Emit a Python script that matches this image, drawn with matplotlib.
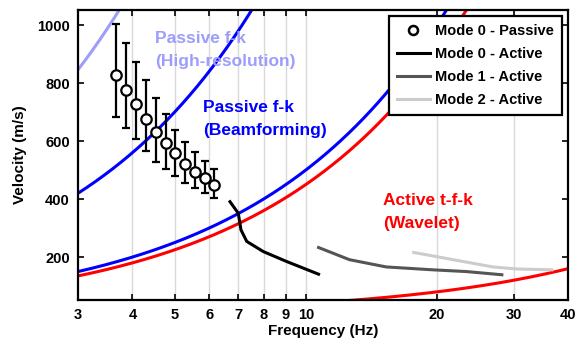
import numpy as np
import matplotlib
matplotlib.use("Agg")
import matplotlib.pyplot as plt
from matplotlib.lines import Line2D

plt.rcParams['font.family'] = ['Liberation Sans', 'DejaVu Sans']
plt.rcParams['font.weight'] = 'bold'

# Passive mode 0 picks with asymmetric error bars
passive_f = [3.66, 3.87, 4.07, 4.30, 4.53, 4.77, 5.02, 5.29, 5.57, 5.86, 6.17]
passive_v = [828, 776, 727, 676, 630, 593, 558, 521, 493, 471, 447]
passive_hi = [1005, 937, 874, 810, 750, 692, 638, 598, 562, 532, 504]
passive_lo = [684, 646, 606, 567, 529, 503, 480, 457, 438, 420, 403]

# Active dispersion curves
m0_f = [6.70, 7.00, 7.10, 7.32, 7.99, 9.03, 10.7]
m0_v = [391, 351, 294, 254, 219, 185, 141]
m1_f = [10.7, 12.6, 15.3, 19.6, 23.4, 28.2]
m1_v = [233, 191, 166, 156, 150, 139]
m2_f = [17.7, 21.8, 26.9, 30.5, 36.7]
m2_v = [216, 191, 166, 159, 156]

# Resolution limits, v = slope * f
hires_slope = 282
beam_upper_slope = 140
beam_lower_slope = 50
wavelet_upper_slope = 45
wavelet_lower_slope = 4

xticks = [3, 4, 5, 6, 7, 8, 9, 10, 20, 30, 40]
yticks = [200, 400, 600, 800, 1000]

W, H = 578, 347
fig = plt.figure(figsize=(W / 100, H / 100), dpi=100)
ax = fig.add_axes([78 / W, 47 / H, 490 / W, 290 / H])
ax.set_xscale('log')
ax.set_xlim(3, 40)
ax.set_ylim(52, 1052)

for xv in xticks[1:-1]:
    ax.axvline(xv, color='#d9d9d9', lw=1.0, zorder=0)

f = np.logspace(np.log10(3), np.log10(40), 400)
ax.plot(f, hires_slope * f, color='#9d9dfa', lw=2.2, zorder=2)
ax.plot(f, beam_upper_slope * f, color='#0000ff', lw=2.2, zorder=2)
ax.plot(f, beam_lower_slope * f, color='#0000ff', lw=2.2, zorder=2)
ax.plot(f, wavelet_upper_slope * f, color='#ff0000', lw=2.2, zorder=2)
ax.plot(f, wavelet_lower_slope * f, color='#ff0000', lw=2.2, zorder=2)

pv = np.array(passive_v)
yerr = [pv - np.array(passive_lo), np.array(passive_hi) - pv]
ax.errorbar(passive_f, passive_v, yerr=yerr, fmt='none', ecolor='black',
            elinewidth=1.6, capsize=3, capthick=1.6, zorder=3)
ax.plot(passive_f, passive_v, 'o', ms=7.5, mfc='white', mec='black', mew=1.6,
        ls='none', zorder=4)

ax.plot(m0_f, m0_v, color='black', lw=2.2, zorder=3)
ax.plot(m1_f, m1_v, color='#555555', lw=2.2, zorder=3)
ax.plot(m2_f, m2_v, color='#cccccc', lw=2.2, zorder=3)


def label(px, py, s, color):
    fig.text(px / W, 1 - py / H, s, color=color, fontsize=12.5, fontweight='bold',
             va='center', ha='left', linespacing=1.6)


label(155, 50, 'Passive f-k\n(High-resolution)', '#9d9dfa')
label(203, 119, 'Passive f-k\n(Beamforming)', '#0000ff')
label(383, 212, 'Active t-f-k\n(Wavelet)', '#ff0000')

ax.set_xticks(xticks)
ax.set_xticklabels([str(t) for t in xticks])
ax.xaxis.set_minor_locator(matplotlib.ticker.NullLocator())
ax.set_yticks(yticks)
ax.tick_params(axis='both', which='major', direction='in', length=4, width=1.2,
               top=True, right=True, labelsize=10.5, pad=6)
for lbl in ax.get_xticklabels() + ax.get_yticklabels():
    lbl.set_fontweight('bold')
for s in ax.spines.values():
    s.set_linewidth(1.6)

ax.set_xlabel('Frequency (Hz)', fontsize=11, fontweight='bold', labelpad=1)
ax.set_ylabel('Velocity (m/s)', fontsize=11, fontweight='bold', labelpad=7)

handles = [
    Line2D([], [], marker='o', ls='none', ms=6.5, mfc='white', mec='black', mew=1.8),
    Line2D([], [], color='black', lw=2.2),
    Line2D([], [], color='#555555', lw=2.2),
    Line2D([], [], color='#cccccc', lw=2.2),
]
labels = ['Mode 0 - Passive', 'Mode 0 - Active', 'Mode 1 - Active', 'Mode 2 - Active']
leg = ax.legend(handles, labels, loc='upper right', frameon=True,
                fancybox=False, edgecolor='black', framealpha=1, borderaxespad=0.4,
                handlelength=2.3, handletextpad=0.35, labelspacing=0.63, borderpad=0.55,
                prop={'weight': 'bold', 'size': 10.5})
leg.get_frame().set_linewidth(1.6)
leg.set_zorder(10)

fig.savefig('out.png', dpi=100)
